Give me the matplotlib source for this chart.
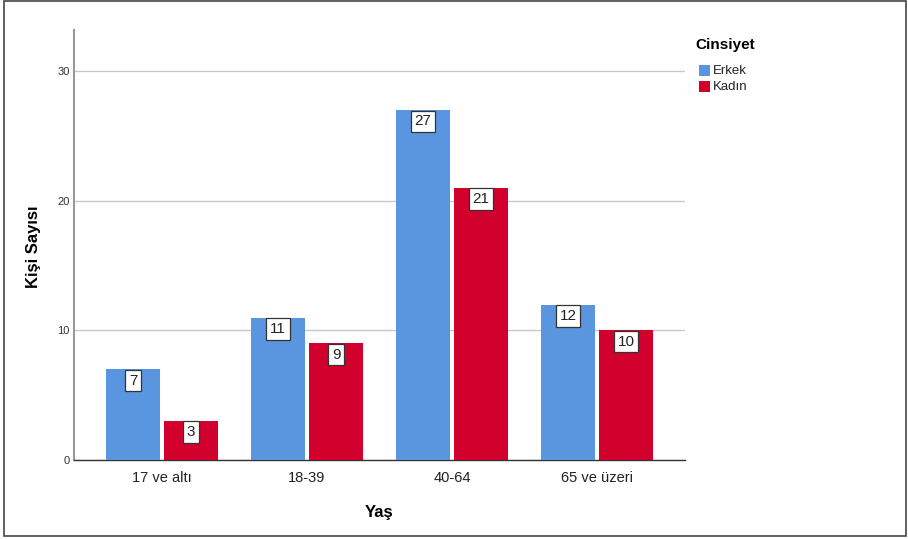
import numpy as np
import matplotlib.pyplot as plt
from matplotlib.patches import Rectangle

plt.rcParams['font.family'] = ['Liberation Sans', 'DejaVu Sans']

# Data
categories = ['17 ve altı', '18-39', '40-64', '65 ve üzeri']
erkek = [7, 11, 27, 12]
kadin = [3, 9, 21, 10]
series_names = ['Erkek', 'Kadın']
yticks = [0, 10, 20, 30]

blue = '#5a95e0'
red = '#d1002c'

W, H = 908, 539
fig = plt.figure(figsize=(W / 100, H / 100), dpi=100)
# axes placed in pixel terms: left 74, right 685, top 30, bottom 460
ax = fig.add_axes([74 / W, 1 - 460 / H, (685 - 74) / W, (460 - 30) / H])

x = np.arange(len(categories))
bw = 0.366
off = 0.2
bars_e = ax.bar(x - off, erkek, bw, color=blue, zorder=3)
bars_k = ax.bar(x + off, kadin, bw, color=red, zorder=3)

# value labels in boxes just below the bar top
for bars, vals in [(bars_e, erkek), (bars_k, kadin)]:
    for b, v in zip(bars, vals):
        ax.annotate(str(v), (b.get_x() + b.get_width() / 2, v),
                    xytext=(0, -3), textcoords='offset points',
                    ha='center', va='top', fontsize=11, color='#222222', zorder=5,
                    bbox=dict(boxstyle='square,pad=0.25', fc='white', ec='#333333', lw=0.9))

ax.set_xlim(-0.607, 3.607)
ax.set_ylim(0, 33.2)
ax.set_yticks(yticks)
ax.set_xticks(x)
ax.set_xticklabels(categories, fontsize=10.5, color='#222222')
ax.tick_params(axis='y', labelsize=8, colors='#333333', length=0, pad=3)
ax.tick_params(axis='x', length=0, pad=8)
ax.yaxis.grid(True, color='#c8c8c8', lw=1, zorder=0)
ax.set_axisbelow(True)

for s in ['top', 'right']:
    ax.spines[s].set_visible(False)
ax.spines['left'].set_color('#999999')
ax.spines['left'].set_linewidth(1.5)
ax.spines['bottom'].set_color('#333333')
ax.spines['bottom'].set_linewidth(1)

ax.set_xlabel('Yaş', fontsize=12, fontweight='bold', labelpad=14)
ax.set_ylabel('Kişi Sayısı', fontsize=12, fontweight='bold')
ax.yaxis.set_label_coords((41 - 74) / 611, 0.495)

# legend
fig.text(695 / W, 1 - 45 / H, 'Cinsiyet', fontsize=11, fontweight='bold', va='center', ha='left')
for i, (name, col) in enumerate(zip(series_names, [blue, red])):
    yc = 71 + 16 * i
    fig.patches.append(Rectangle((699 / W, 1 - (yc + 5) / H), 11 / W, 11 / H,
                                 transform=fig.transFigure, fc=col, ec='none'))
    fig.text(713 / W, 1 - yc / H, name, fontsize=9.5, va='center', ha='left', color='#222222')

# outer frame
fig.patches.append(Rectangle((4 / W, 1 - 536 / H), 902 / W, 535 / H, transform=fig.transFigure,
                             fill=False, ec='#444444', lw=1.2))

fig.savefig('out.png', dpi=100)
